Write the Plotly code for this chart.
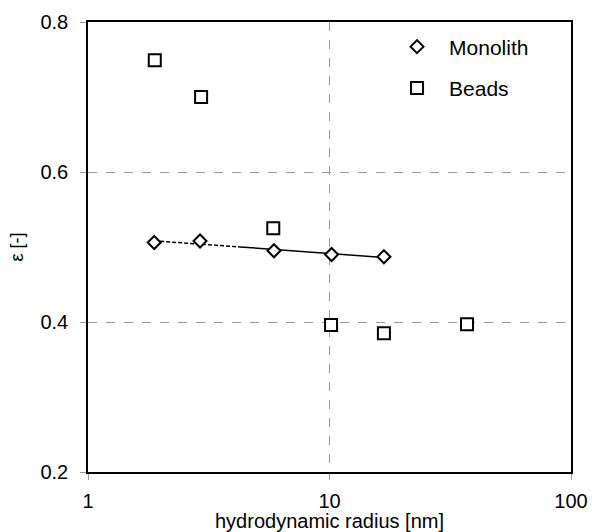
import numpy as np
import plotly.graph_objects as go

# Data
mono_x = [1.88, 2.91, 5.89, 10.2, 16.8]
mono_y = [0.506, 0.508, 0.495, 0.490, 0.487]
beads_x = [1.89, 2.94, 5.85, 10.15, 16.8, 37.1]
beads_y = [0.749, 0.700, 0.525, 0.396, 0.385, 0.397]
x_ticks = [1, 10, 100]
y_ticks = [0.2, 0.4, 0.6, 0.8]

# trend line through monolith points (fit in log x)
lx = np.log10(mono_x)
coef = np.polyfit(lx, mono_y, 2)
xs = np.logspace(lx.min(), lx.max(), 60)
ys = np.polyval(coef, np.log10(xs))
split = 4.3

FONT = "Liberation Sans, Arial, sans-serif"
fig = go.Figure()
m1 = xs <= split
m2 = xs >= split * 0.98
fig.add_trace(go.Scatter(x=xs[m1], y=ys[m1], mode="lines",
                         line=dict(color="black", width=1.5, dash="4px,2px"),
                         showlegend=False, hoverinfo="skip"))
fig.add_trace(go.Scatter(x=xs[m2], y=ys[m2], mode="lines",
                         line=dict(color="black", width=1.5),
                         showlegend=False, hoverinfo="skip"))
fig.add_trace(go.Scatter(x=mono_x, y=mono_y, mode="markers", name="Monolith",
                         legendgroup="a",
                         marker=dict(symbol="diamond", size=10, color="white",
                                     line=dict(color="black", width=2))))
fig.add_trace(go.Scatter(x=beads_x, y=beads_y, mode="markers", name="Beads",
                         legendgroup="b",
                         marker=dict(symbol="square", size=12, color="white",
                                     line=dict(color="black", width=2))))

fig.update_layout(
    width=592, height=532,
    margin=dict(l=88, r=21, t=22, b=60),
    paper_bgcolor="white", plot_bgcolor="white",
    font=dict(family=FONT, size=20, color="black"),
    legend=dict(x=0.615, y=0.99, xanchor="left", yanchor="top",
                bgcolor="rgba(0,0,0,0)", font=dict(size=21),
                itemwidth=54, tracegroupgap=11),
    xaxis=dict(type="log", range=[0, 2], tickvals=x_ticks,
               ticktext=[str(v) for v in x_ticks],
               showline=True, linecolor="black", linewidth=1.5, mirror=True,
               showgrid=True, gridcolor="#999999", griddash="dash", gridwidth=1,
               ticks="outside", ticklen=6, tickcolor="#999999",
               ticklabelstandoff=4,
               zeroline=False, automargin=False,
               title=dict(text="hydrodynamic radius [nm]", standoff=5,
                          font=dict(size=20))),
    yaxis=dict(range=[0.2, 0.8], tickvals=y_ticks,
               ticktext=["0.2", "0.4", "0.6", "0.8"],
               showline=True, linecolor="black", linewidth=1.5, mirror=True,
               showgrid=True, gridcolor="#999999", griddash="dash", gridwidth=1,
               ticks="outside", ticklen=6, tickcolor="#999999",
               ticklabelstandoff=8,
               zeroline=False, automargin=False,
               title=dict(text="ε [-]", standoff=12, font=dict(size=18))),
)
fig.write_html("out.html")
